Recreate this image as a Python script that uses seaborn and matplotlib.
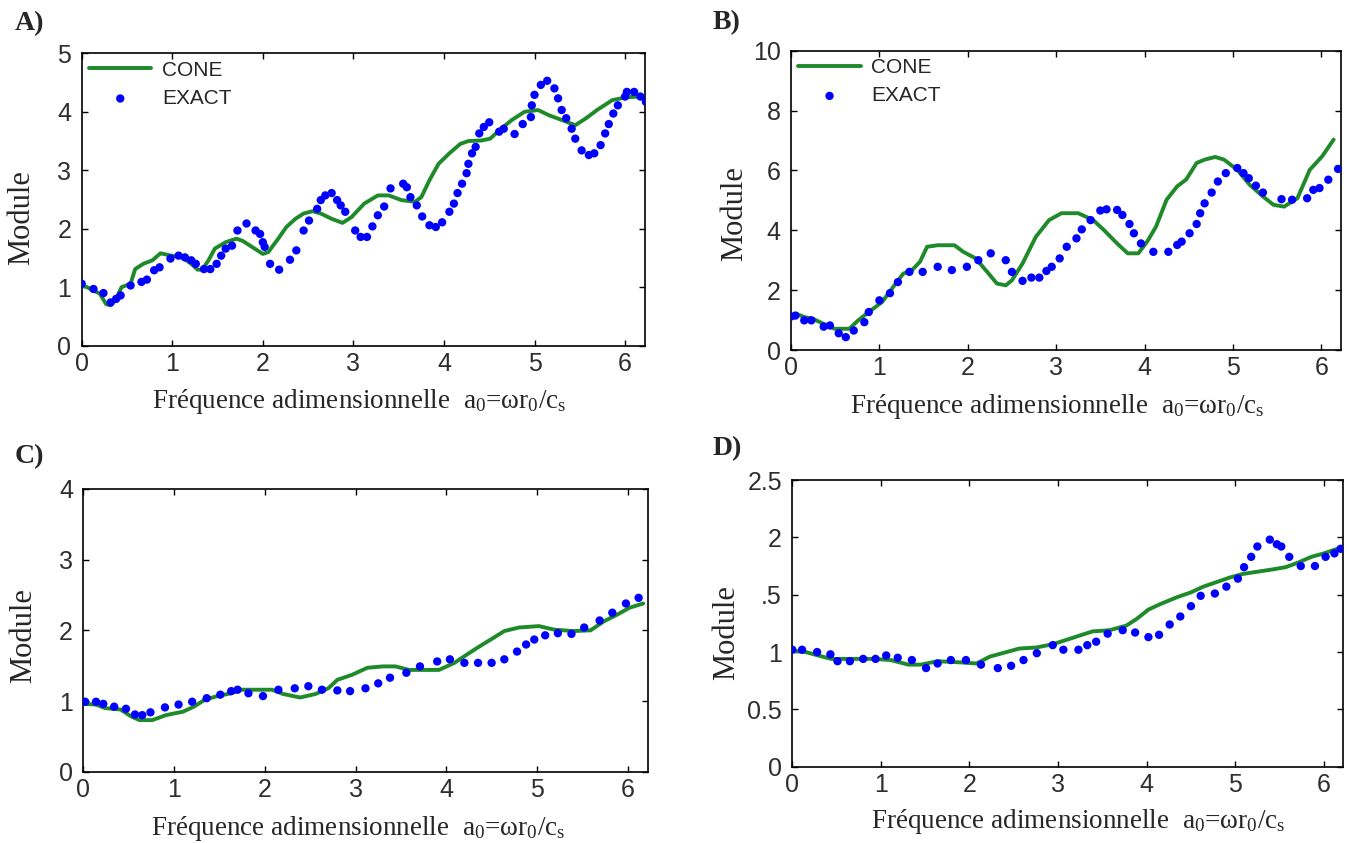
import matplotlib
matplotlib.use("Agg")
import matplotlib.pyplot as plt
import seaborn as sns

# ---------------------------------------------------------------------------
# Data: module of the impedance vs. dimensionless frequency a0 = w r0 / cs
# ---------------------------------------------------------------------------
a_exact_x = [0.00, 0.13, 0.24, 0.32, 0.38, 0.43, 0.54, 0.66, 0.72, 0.80, 0.86, 0.98,
             1.07, 1.14, 1.21, 1.26, 1.35, 1.42, 1.49, 1.54, 1.59, 1.66, 1.72, 1.82,
             1.92, 1.97, 2.00, 2.02, 2.08, 2.18, 2.30, 2.37, 2.45, 2.51, 2.60, 2.64,
             2.69, 2.76, 2.82, 2.86, 2.91, 3.02, 3.08, 3.15, 3.21, 3.27, 3.34, 3.41,
             3.55, 3.59, 3.63, 3.70, 3.76, 3.84, 3.91, 3.98, 4.06, 4.11, 4.15, 4.20,
             4.25, 4.27, 4.31, 4.35, 4.39, 4.44, 4.50, 4.61, 4.66, 4.78, 4.87, 4.96,
             4.97, 5.00, 5.07, 5.14, 5.22, 5.26, 5.30, 5.35, 5.41, 5.45, 5.52, 5.60,
             5.66, 5.73, 5.78, 5.82, 5.87, 5.92, 6.00, 6.02, 6.10, 6.17, 6.23]
a_exact_y = [1.06, 0.97, 0.90, 0.74, 0.80, 0.86, 1.03, 1.09, 1.13, 1.29, 1.34, 1.49,
             1.54, 1.51, 1.46, 1.40, 1.31, 1.31, 1.40, 1.54, 1.66, 1.71, 1.97, 2.09,
             1.97, 1.91, 1.77, 1.69, 1.40, 1.30, 1.47, 1.63, 1.97, 2.14, 2.34, 2.49,
             2.57, 2.61, 2.49, 2.40, 2.29, 1.97, 1.86, 1.86, 2.04, 2.23, 2.38, 2.69,
             2.77, 2.71, 2.54, 2.40, 2.21, 2.06, 2.03, 2.11, 2.29, 2.43, 2.61, 2.77,
             2.95, 3.11, 3.29, 3.40, 3.63, 3.74, 3.82, 3.66, 3.71, 3.62, 3.79, 3.91,
             4.11, 4.29, 4.46, 4.53, 4.40, 4.23, 4.03, 3.89, 3.71, 3.54, 3.34, 3.26,
             3.29, 3.43, 3.63, 3.79, 3.97, 4.11, 4.26, 4.34, 4.34, 4.26, 4.17]
a_cone_x = [0.00, 0.06, 0.20, 0.27, 0.32, 0.38, 0.44, 0.54, 0.59, 0.68, 0.78, 0.87,
            0.99, 1.11, 1.21, 1.28, 1.33, 1.40, 1.47, 1.59, 1.71, 1.78, 1.88, 2.00,
            2.06, 2.17, 2.26, 2.36, 2.45, 2.55, 2.64, 2.76, 2.88, 2.98, 3.12, 3.27,
            3.39, 3.53, 3.68, 3.75, 3.84, 3.94, 4.06, 4.18, 4.27, 4.42, 4.51, 4.63,
            4.75, 4.89, 5.04, 5.16, 5.30, 5.45, 5.57, 5.69, 5.86, 6.02, 6.17]
a_cone_y = [1.03, 1.00, 0.89, 0.71, 0.69, 0.80, 1.00, 1.06, 1.31, 1.40, 1.46, 1.58,
            1.54, 1.51, 1.40, 1.30, 1.30, 1.46, 1.66, 1.77, 1.83, 1.79, 1.69, 1.57,
            1.60, 1.83, 2.03, 2.17, 2.26, 2.30, 2.26, 2.17, 2.10, 2.20, 2.43, 2.57,
            2.57, 2.49, 2.46, 2.54, 2.83, 3.11, 3.29, 3.45, 3.50, 3.51, 3.54, 3.71,
            3.86, 4.00, 4.03, 3.94, 3.86, 3.77, 3.89, 4.03, 4.20, 4.25, 4.26]

b_exact_x = [0.00, 0.05, 0.15, 0.23, 0.37, 0.44, 0.54, 0.62, 0.71, 0.83, 0.88, 1.00,
             1.12, 1.21, 1.34, 1.49, 1.66, 1.82, 1.99, 2.12, 2.26, 2.43, 2.50, 2.62,
             2.72, 2.81, 2.89, 2.95, 3.04, 3.12, 3.23, 3.29, 3.39, 3.50, 3.57, 3.69,
             3.75, 3.83, 3.88, 3.96, 4.10, 4.27, 4.37, 4.42, 4.51, 4.59, 4.63, 4.68,
             4.76, 4.83, 4.92, 5.05, 5.12, 5.18, 5.26, 5.34, 5.55, 5.67, 5.84, 5.91,
             5.98, 6.08, 6.19]
b_exact_y = [1.12, 1.15, 0.99, 0.99, 0.78, 0.82, 0.56, 0.43, 0.65, 0.93, 1.27, 1.66,
             1.90, 2.27, 2.61, 2.61, 2.78, 2.67, 2.78, 3.00, 3.23, 3.00, 2.61, 2.31,
             2.42, 2.42, 2.64, 2.78, 3.06, 3.45, 3.73, 4.03, 4.34, 4.66, 4.70, 4.68,
             4.51, 4.21, 3.90, 3.56, 3.28, 3.28, 3.51, 3.62, 3.90, 4.21, 4.57, 4.90,
             5.26, 5.63, 5.91, 6.08, 5.91, 5.74, 5.49, 5.26, 5.04, 5.02, 5.07, 5.35,
             5.41, 5.69, 6.05]
b_cone_x = [0.00, 0.06, 0.15, 0.25, 0.35, 0.49, 0.66, 0.76, 0.88, 1.03, 1.17, 1.27,
            1.37, 1.46, 1.54, 1.66, 1.85, 1.95, 2.09, 2.22, 2.33, 2.43, 2.50, 2.62,
            2.77, 2.92, 3.06, 3.25, 3.42, 3.54, 3.69, 3.81, 3.93, 4.03, 4.13, 4.25,
            4.37, 4.47, 4.59, 4.68, 4.80, 4.90, 5.05, 5.19, 5.34, 5.46, 5.58, 5.73,
            5.87, 6.01, 6.14]
b_cone_y = [1.10, 1.21, 1.10, 1.04, 0.90, 0.71, 0.71, 0.99, 1.27, 1.60, 2.16, 2.55,
            2.67, 2.95, 3.45, 3.50, 3.50, 3.28, 3.06, 2.61, 2.22, 2.16, 2.33, 2.89,
            3.78, 4.34, 4.57, 4.57, 4.34, 4.01, 3.56, 3.23, 3.23, 3.62, 4.12, 5.02,
            5.47, 5.69, 6.25, 6.36, 6.45, 6.36, 6.02, 5.52, 5.13, 4.85, 4.79, 5.07,
            6.02, 6.47, 7.03]

c_exact_x = [0.02, 0.14, 0.22, 0.34, 0.47, 0.57, 0.65, 0.74, 0.90, 1.05, 1.20, 1.36,
             1.51, 1.63, 1.70, 1.82, 1.98, 2.15, 2.33, 2.48, 2.63, 2.80, 2.94, 3.11,
             3.25, 3.38, 3.56, 3.71, 3.90, 4.04, 4.20, 4.35, 4.50, 4.64, 4.78, 4.88,
             4.97, 5.09, 5.23, 5.38, 5.52, 5.69, 5.83, 5.98, 6.12]
c_exact_y = [0.99, 0.99, 0.96, 0.92, 0.89, 0.81, 0.80, 0.84, 0.91, 0.95, 0.99, 1.04,
             1.09, 1.14, 1.16, 1.11, 1.07, 1.16, 1.18, 1.21, 1.16, 1.15, 1.14, 1.18,
             1.25, 1.33, 1.40, 1.49, 1.56, 1.59, 1.54, 1.54, 1.54, 1.59, 1.70, 1.80,
             1.87, 1.93, 1.96, 1.95, 2.04, 2.14, 2.25, 2.38, 2.46]
c_cone_x = [0.00, 0.14, 0.24, 0.41, 0.53, 0.62, 0.76, 0.91, 1.10, 1.22, 1.34, 1.48,
            1.63, 1.74, 1.91, 2.08, 2.20, 2.39, 2.56, 2.70, 2.80, 2.96, 3.13, 3.30,
            3.44, 3.59, 3.78, 3.92, 4.09, 4.23, 4.35, 4.49, 4.64, 4.80, 5.02, 5.19,
            5.40, 5.59, 5.74, 5.88, 6.02, 6.17]
c_cone_y = [0.96, 0.95, 0.90, 0.88, 0.78, 0.73, 0.73, 0.80, 0.85, 0.92, 1.02, 1.07,
            1.11, 1.16, 1.16, 1.16, 1.10, 1.05, 1.10, 1.18, 1.30, 1.37, 1.47, 1.49,
            1.49, 1.44, 1.44, 1.44, 1.54, 1.66, 1.76, 1.87, 1.99, 2.04, 2.06, 2.01,
            1.99, 2.00, 2.13, 2.22, 2.32, 2.38]

d_exact_x = [0.00, 0.11, 0.28, 0.43, 0.51, 0.65, 0.80, 0.94, 1.06, 1.19, 1.35, 1.51,
             1.64, 1.79, 1.96, 2.13, 2.32, 2.47, 2.61, 2.76, 2.94, 3.06, 3.23, 3.33,
             3.43, 3.56, 3.73, 3.87, 4.02, 4.14, 4.26, 4.38, 4.50, 4.61, 4.77, 4.90,
             5.03, 5.10, 5.18, 5.25, 5.39, 5.47, 5.52, 5.61, 5.74, 5.90, 6.02, 6.12,
             6.19]
d_exact_y = [1.02, 1.02, 1.00, 0.98, 0.92, 0.92, 0.94, 0.94, 0.97, 0.95, 0.93, 0.86,
             0.90, 0.93, 0.93, 0.89, 0.86, 0.88, 0.93, 0.99, 1.06, 1.02, 1.02, 1.06,
             1.09, 1.16, 1.19, 1.17, 1.13, 1.15, 1.24, 1.31, 1.40, 1.49, 1.51, 1.57,
             1.64, 1.74, 1.83, 1.92, 1.98, 1.94, 1.92, 1.83, 1.75, 1.75, 1.83, 1.86,
             1.90]
d_cone_x = [0.00, 0.15, 0.29, 0.44, 0.68, 0.92, 1.11, 1.31, 1.45, 1.64, 1.89, 2.08,
            2.23, 2.42, 2.56, 2.76, 2.95, 3.19, 3.39, 3.58, 3.77, 3.89, 4.02, 4.16,
            4.35, 4.50, 4.64, 4.79, 4.94, 5.08, 5.25, 5.42, 5.57, 5.71, 5.86, 6.00,
            6.19]
d_cone_y = [1.01, 1.00, 0.97, 0.94, 0.94, 0.94, 0.93, 0.89, 0.89, 0.92, 0.91, 0.90,
            0.96, 1.00, 1.03, 1.04, 1.07, 1.13, 1.18, 1.19, 1.23, 1.29, 1.37, 1.42,
            1.48, 1.52, 1.57, 1.61, 1.65, 1.68, 1.70, 1.72, 1.74, 1.78, 1.83, 1.86,
            1.91]

x_ticks = [0, 1, 2, 3, 4, 5, 6]
a_yticks = [0, 1, 2, 3, 4, 5]
b_yticks = [0, 2, 4, 6, 8, 10]
c_yticks = [0, 1, 2, 3, 4]
d_yticks = [0, 0.5, 1, 1.5, 2, 2.5]
d_ytick_labels = ["0", "0.5", "1", ".5", "2", "2.5"]

series_names = ["CONE", "EXACT"]
panel_letters = ["A)", "B)", "C)", "D)"]
x_label = "Fréquence adimensionnelle  a$_\\mathrm{0}$=ωr$_\\mathrm{0}$/c$_\\mathrm{s}$"
y_label = "Module"

# ---------------------------------------------------------------------------
# Style
# ---------------------------------------------------------------------------
W, H = 1351, 843
sns.set_theme(style="white")
plt.rcParams["font.family"] = ["Liberation Sans", "DejaVu Sans"]
plt.rcParams["mathtext.fontset"] = "custom"
plt.rcParams["mathtext.rm"] = "Liberation Serif"
plt.rcParams["mathtext.it"] = "Liberation Serif:italic"

GREEN = "#1f8a2a"
BLUE = "#0000ff"
SERIF = ["Liberation Serif", "DejaVu Serif"]

fig = plt.figure(figsize=(W / 100, H / 100), dpi=100)
fig.patch.set_facecolor("white")


def px_box(left, top, right, bottom):
    return [left / W, 1 - bottom / H, (right - left) / W, (bottom - top) / H]


def fx(px):
    return px / W


def fy(py):
    return 1 - py / H


panels = [
    dict(box=(81.7, 53.3, 645, 345.7), ex=(a_exact_x, a_exact_y), co=(a_cone_x, a_cone_y),
         ylim=(0, 5), yticks=a_yticks, ylabels=None, legend=True,
         letter=(15, 24), ylab=(22, 218), xlab=(359, 408)),
    dict(box=(791, 50.7, 1340.7, 350), ex=(b_exact_x, b_exact_y), co=(b_cone_x, b_cone_y),
         ylim=(0, 10), yticks=b_yticks, ylabels=None, legend=True,
         letter=(713, 23), ylab=(735, 214), xlab=(1057, 413)),
    dict(box=(83.3, 489, 647.7, 771.7), ex=(c_exact_x, c_exact_y), co=(c_cone_x, c_cone_y),
         ylim=(0, 4), yticks=c_yticks, ylabels=None, legend=False,
         letter=(15, 457), ylab=(24, 636), xlab=(358, 835)),
    dict(box=(792.3, 480, 1343.3, 766.7), ex=(d_exact_x, d_exact_y), co=(d_cone_x, d_cone_y),
         ylim=(0, 2.5), yticks=d_yticks, ylabels=d_ytick_labels, legend=False,
         letter=(713, 449), ylab=(727, 633), xlab=(1078, 828)),
]

for letter, p in zip(panel_letters, panels):
    ax = fig.add_axes(px_box(*p["box"]))
    sns.lineplot(x=p["co"][0], y=p["co"][1], ax=ax, color=GREEN, linewidth=2.8,
                 estimator=None, label=series_names[0] if p["legend"] else None)
    sns.scatterplot(x=p["ex"][0], y=p["ex"][1], ax=ax, color=BLUE, s=36,
                    edgecolor="none", linewidth=0, zorder=3,
                    label=series_names[1] if p["legend"] else None)

    ax.set_xlim(0, 6.22)
    ax.set_ylim(*p["ylim"])
    ax.set_xticks(x_ticks)
    ax.set_xticklabels([str(t) for t in x_ticks])
    ax.set_yticks(p["yticks"])
    if p["ylabels"] is not None:
        ax.set_yticklabels(p["ylabels"])
    else:
        ax.set_yticklabels([str(t) for t in p["yticks"]])
    ax.set_xlabel("")
    ax.set_ylabel("")

    for side in ("left", "right", "top", "bottom"):
        ax.spines[side].set_visible(True)
        ax.spines[side].set_color("black")
        ax.spines[side].set_linewidth(1.2)
    ax.tick_params(axis="both", direction="in", length=4.5, width=1.0, color="black",
                   bottom=True, left=True, top=True, right=True,
                   labelsize=18, labelcolor="#2e2e2e")
    ax.tick_params(axis="x", pad=4.5)
    ax.tick_params(axis="y", pad=7.5)

    if p["legend"]:
        ax.legend(loc="upper left", frameon=False, fontsize=15, handlelength=3.0,
                  handletextpad=0.5, labelspacing=0.45, borderaxespad=0.0,
                  borderpad=0.35, markerscale=1.0)

    fig.text(fx(p["letter"][0]), fy(p["letter"][1]), letter, family=SERIF,
             fontsize=20, fontweight="bold", ha="left", va="center")
    fig.text(fx(p["ylab"][0]), fy(p["ylab"][1]), y_label, family=SERIF,
             fontsize=22, rotation=90, ha="center", va="center")
    fig.text(fx(p["xlab"][0]), fy(p["xlab"][1]), x_label, family=SERIF,
             fontsize=19.5, ha="center", va="baseline")

fig.savefig("out.png", dpi=100)
